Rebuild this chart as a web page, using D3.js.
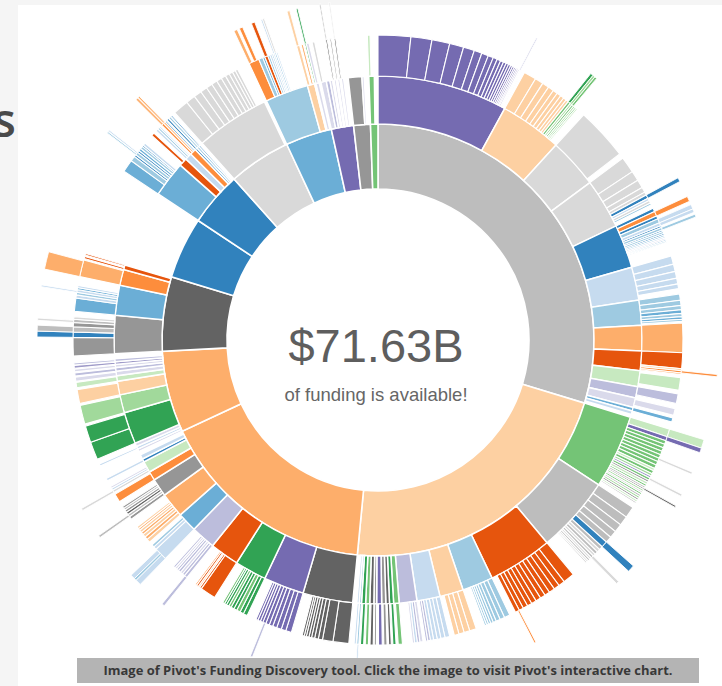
<!DOCTYPE html>
<html><head><meta charset="utf-8">
<script src="https://cdn.jsdelivr.net/npm/d3@7"></script>
<style>html,body{margin:0;padding:0;background:#f5f5f5;}svg{display:block}</style>
</head><body>
<svg id="chart" width="722" height="686"></svg>
<script>
const palette = {B0:"#3182bd",B1:"#6baed6",B2:"#9ecae1",B3:"#c6dbef",O0:"#e6550d",O1:"#fd8d3c",O2:"#fdae6b",O3:"#fdd0a2",
  G0:"#31a354",G1:"#74c476",G2:"#a1d99b",G3:"#c7e9c0",P0:"#756bb1",P1:"#9e9ac8",P2:"#bcbddc",P3:"#dadaeb",
  K0:"#636363",K1:"#969696",K2:"#bdbdbd",K3:"#d9d9d9"};

const totalLabel = "$71.63B";
const subLabel = "of funding is available!";
const caption = "Image of Pivot's Funding Discovery tool. Click the image to visit Pivot's interactive chart.";

// ring 1: [id, share, colour]
const ring1 = [["g1",107,"K2"],["p1",78.5,"O3"],["o1",59.5,"O2"],["o2",22,"O2"],["dg",20,"K0"],["b1",16.6,"B0"],
  ["b2",14.6,"B0"],["lg",16.8,"K3"],["lb",12.5,"B1"],["pu",6,"P0"],["gr",4.5,"K1"],["gn",2,"G1"]];

// rings 2-4: [parentId, [[share, colour], ...]]  (colour null = unfilled)
const ring2 = [
  ["g1",[[28.7,"P0"],[13.7,"O3"],[11,"K3"],[11,"K3"],[9.6,"B0"],[7.3,"B3"],[5.5,"B2"],[5.6,"O2"],[4.3,"O0"],[3.5,"G3"],[2.5,"P2"],[2.1,"P3"],[0.8,"B1"],[0.8,"B3"]]],
  ["p1",[[16.3,"G1"],[16.9,"K2"],[14.2,"O0"],[6.8,"B2"],[5.2,"O3"],[5.1,"B3"],[3.9,"P2"],[1.2,"G1"],[0.9,"G0"],[0.8,"K0"],[0.9,"K1"],[1.1,"P0"],[0.6,"K1"],[0.9,"K0"],[0.9,"G1"],[0.9,"G0"],[0.5,"B2"],[0.5,"B3"]]],
  ["o1",[[11,"K0"],[8.9,"P0"],[7,"G0"],[6.4,"O0"],[5.4,"P2"],[4.3,"B1"],[5.5,"O2"],[4,"K1"],[2,"O1"],[2.5,"G3"],[0.7,"B0"],[1,"B3"]]],
  ["o2",[[0.6,"P3"],[0.6,"B3"],[0.8,"P3"],[7,"G0"],[4,"G2"],[3,"O3"],[1.2,"G3"],[1,"P3"],[0.8,"P2"],[0.7,"P3"],[0.6,"P1"],[0.6,"P2"]]],
  ["dg",[[8.4,"K1"],[6.6,"B1"],[3.5,"O1"],[1,"O0"]]],
  ["b2",[[7.9,"B1"],[1.8,"O0"],[1.5,"B3"],[1.4,"O1"],[0.5,"B0"],[0.5,"B1"],[0.4,"B0"]]],
  ["lg",[[16.3,"K3"]]],
  ["lb",[[9.5,"B2"],[1.6,"O3"],[0.3,"G0"],[0.7,"P3"]]],
  ["pu",[[1.2,"P3"],[0.8,"P2"],[0.6,"P3"],[0.3,"K0"],[0.5,"P3"],[0.3,"P0"],[0.5,"P3"],[0.3,"K0"],[0.5,"P3"]]],
  ["gr",[[3,"K1"],[0.5,"P3"]]],
  ["gn",[[1.2,"G1"]]]
];

const ring3 = [
  ["g1.0",[[6.2,"P0"],[4.0,"P0"],[3.4,"P0"],[2.7,"P0"],[2.1,"P0"],[1.5,"P0"],[1.3,"P0"],[1.0,"P0"],[0.8,"P0"],[0.7,"P0"],[0.6,"P0"],[0.55,"P0"],[0.5,"P0"],[0.45,"P0"],[0.4,"P0"],[0.35,"P0"],[0.3,"P0"],[0.3,"P0"],[0.25,"P0"],[0.25,"P0"],[0.2,"P0"],[0.2,"P1"],[0.2,"P2"],[0.15,"P2"],[0.15,"P3"]]],
  ["g1.1",[[2.4,"O3"],[1.6,"O3"],[1.3,"O3"],[1.1,"O3"],[0.9,"O3"],[0.8,"O3"],[0.7,"O3"],[0.6,"O3"],[0.5,"O3"],[0.5,"G1"],[0.4,"G2"],[0.4,"G1"],[0.35,"G2"],[0.3,"G1"],[0.3,"G3"]]],
  ["g1.2",[[10,"K3"]]],
  ["g1.3",[[3.1,"K3"],[1.9,"K3"],[1.6,"K3"],[1.0,"K3"],[0.6,"K3"],[0.7,"B0"],[0.5,"B3"],[0.5,"K3"],[0.4,"B2"]]],
  ["g1.4",[[0.7,"B0"],[0.9,"O1"],[0.6,"B0"],[0.8,"B2"],[0.6,"B3"],[0.35,"B0"],[0.5,"B2"],[0.3,"B0"],[0.4,"B2"],[0.3,"B0"],[0.3,"B1"],[0.3,"B3"],[0.3,"P3"],[0.25,"B0"],[0.25,"B2"]]],
  ["g1.5",[[1.6,"B3"],[1.4,"B3"],[1.3,"B3"],[1.1,"B3"],[0.9,"B3"]]],
  ["g1.6",[[1.2,"B2"],[1.0,"B2"],[0.8,"B2"],[0.7,"B1"],[0.6,"B2"],[0.5,"B1"],[0.4,"B2"]]],
  ["g1.7",[[5.6,"O2"]]],
  ["g1.8",[[3.0,"O0"],[0.4,"O3"],[0.4,"O1"],[0.3,"O2"]]],
  ["g1.9",[[0.4,null],[2.4,"G3"]]],
  ["g1.10",[[1.8,"P2"]]],
  ["g1.11",[[0.3,null],[1.3,"P3"]]],
  ["g1.12",[[0.8,"B1"]]],
  ["p1.0",[[1.5,"G3"],[0.8,"P0"],[0.7,"G1"],[0.7,"G1"],[0.7,"G1"],[0.7,"G1"],[0.7,"G1"],[0.7,"G1"],[0.7,"G1"],[0.7,"G1"],[0.5,"G3"],[0.6,"G1"],[0.5,"G2"],[0.4,"P1"],[0.5,"G1"],[0.4,"K1"],[0.5,"G3"],[0.4,"G1"],[0.4,"K2"],[0.3,"K0"],[0.4,"G2"],[0.3,"K2"],[0.4,"G1"],[0.4,"K2"],[0.4,"G2"],[0.4,"K1"],[0.4,"G3"],[0.3,"K2"]]],
  ["p1.1",[[2.2,"K2"],[1.8,"K2"],[1.6,"K2"],[1.4,"K2"],[1.2,"K2"],[1.2,"B0"],[0.7,"K2"],[0.6,"K3"],[0.6,"K2"],[0.5,"K3"],[0.5,"K2"],[0.4,"K3"],[0.4,"K2"],[0.35,"K3"],[0.3,"K2"]]],
  ["p1.2",[[2.2,"O0"],[1.2,"O0"],[1.1,"O0"],[1.1,"O0"],[1.0,"O0"],[1.0,"O0"],[1.0,"O0"],[0.95,"O0"],[0.9,"O0"],[0.9,"O0"],[0.85,"O0"],[0.8,"O0"]]],
  ["p1.3",[[1.1,"B2"],[0.9,"B2"],[0.8,"B2"],[0.6,"B2"],[0.5,"B2"],[0.45,"B2"],[0.4,"B2"],[0.35,"B2"]]],
  ["p1.4",[[1.3,"O3"],[1.1,"O3"],[1.0,"O3"],[0.9,"O3"]]],
  ["p1.5",[[0.9,"B3"],[0.8,"B3"],[0.7,"B3"],[0.7,"B3"],[0.6,"B3"],[0.5,"P2"],[0.4,"P2"]]],
  ["p1.6",[[0.6,"P3"],[0.5,"P2"],[0.5,"B3"],[0.4,"P3"]]],
  ["p1.7",[[0.8,"G1"]]],["p1.8",[[0.6,"G0"]]],["p1.9",[[0.5,"K0"]]],["p1.10",[[0.6,"K1"]]],["p1.11",[[0.7,"P0"]]],
  ["p1.12",[[0.4,"K1"]]],["p1.13",[[0.6,"K0"]]],["p1.14",[[0.6,"G1"]]],["p1.15",[[0.6,"G0"]]],["p1.16",[[0.4,"B2"]]],["p1.17",[[0.4,"B3"]]],
  ["o1.0",[[3.0,"K0"],[2.0,"K0"],[0.8,"K0"],[0.7,"K0"],[0.6,"K0"],[0.5,"K0"],[0.5,"K0"],[0.4,"K0"],[0.4,"K0"]]],
  ["o1.1",[[1.1,"P0"],[0.9,"P0"],[0.9,"P0"],[0.8,"P0"],[0.7,"P0"],[0.7,"P0"],[0.6,"P0"],[0.5,"P0"],[0.5,"P0"],[0.4,"P0"]]],
  ["o1.2",[[0.8,"G0"],[0.7,"G0"],[0.7,"G1"],[0.6,"G0"],[0.6,"G0"],[0.5,"G1"],[0.5,"G0"],[0.4,"G0"],[0.4,"G1"]]],
  ["o1.3",[[3.0,"O0"],[0.4,"O0"],[0.3,"O2"],[0.4,"O0"],[0.3,"O1"]]],
  ["o1.4",[[0.6,"P2"],[0.5,"P2"],[0.5,"P3"],[0.5,"P2"],[0.4,"P2"],[0.4,"P3"],[0.4,"P2"]]],
  ["o1.5",[[2.5,"B3"],[0.6,"B3"],[0.5,"B2"]]],
  ["o1.6",[[0.7,"O3"],[0.6,"O2"],[0.6,"O3"],[0.5,"O2"],[0.5,"O3"],[0.4,"O2"],[0.4,"O3"]]],
  ["o1.7",[[0.6,"K1"],[0.5,"K2"],[0.5,"K0"],[0.5,"K1"],[0.4,"K2"],[0.4,"K1"]]],
  ["o1.8",[[1.6,"O1"]]],
  ["o1.9",[[0.5,"K3"],[0.4,"B3"],[0.4,"P3"]]],
  ["o1.10",[[0.5,"B3"]]],
  ["o2.1",[[0.4,"B3"]]],["o2.3",[[3.4,"G0"],[3.2,"G0"]]],["o2.4",[[3.6,"G2"]]],["o2.5",[[2.6,"O3"]]],["o2.6",[[1.0,"G3"]]],
  ["o2.7",[[0.8,"P3"]]],["o2.8",[[0.6,"P2"]]],["o2.9",[[0.5,"P3"]]],["o2.10",[[0.5,"P1"]]],["o2.11",[[0.4,"P2"]]],
  ["dg.0",[[3.5,"K1"],[1.0,"B0"],[1.0,"K2"],[0.8,"K1"],[0.6,"K2"],[0.5,"K3"]]],
  ["dg.1",[[2.5,"B1"],[0.6,"B3"],[0.5,"B2"],[0.5,"B3"],[0.4,"B1"],[0.4,"B3"]]],
  ["dg.2",[[3.2,"O2"]]],
  ["dg.3",[[0.4,"O0"],[0.3,null],[0.3,"O0"]]],
  ["b2.0",[[2.4,"B1"],[1.0,"B2"],[0.4,"B0"],[0.6,"B2"],[0.4,"B0"],[0.5,"B1"],[0.5,"B2"],[0.3,"B0"],[0.5,"B3"]]],
  ["b2.1",[[0.6,null],[0.6,"O0"]]],
  ["b2.2",[[0.5,"B3"],[0.4,"B2"],[0.3,"B3"]]],
  ["b2.3",[[0.5,"O1"],[0.4,"O2"],[0.3,"B0"]]],
  ["b2.4",[[0.4,"B0"]]],["b2.5",[[0.4,"B2"]]],["b2.6",[[0.3,"B0"]]],
  ["lg.0",[[3.0,"K3"],[1.8,"K3"],[1.5,"K3"],[1.3,"K3"],[1.2,"K3"],[1.1,"K3"],[1.0,"K3"],[0.9,"K3"],[0.8,"K3"],[0.7,"K3"],[0.6,"K3"],[0.5,"K3"]]],
  ["lb.0",[[2.0,"O1"],[0.8,"B2"],[0.4,"B1"],[0.6,"O0"],[0.4,"B2"],[0.4,"B3"],[0.3,"B2"],[0.3,"B3"],[0.3,"B1"],[0.3,"B3"]]],
  ["lb.1",[[0.6,"O3"],[0.3,null],[0.4,"O2"]]],
  ["lb.2",[[0.3,"G0"]]],["lb.3",[[0.5,"P3"]]],
  ["pu.0",[[0.5,"K3"]]],["pu.3",[[0.3,"K0"]]],["pu.5",[[0.3,"K1"]]],["pu.7",[[0.3,"K0"]]],
  ["gn.0",[[0.5,"G3"]]]
];

const ring4 = [
  ["g1.0.20",[[0.2,"P2"]]],
  ["g1.1.9",[[0.5,"G0"]]],["g1.1.10",[[0.4,"G2"]]],["g1.1.11",[[0.4,"G1"]]],
  ["g1.3.5",[[0.7,"B0"]]],
  ["g1.4.1",[[0.9,"O1"]]],["g1.4.3",[[0.8,"B3"]]],["g1.4.4",[[0.6,"B3"]]],["g1.4.6",[[0.5,"B2"]]],
  ["g1.8.2",[[0.4,"O1"]]],
  ["p1.0.0",[[1.5,"G3"]]],["p1.0.1",[[0.8,"P0"]]],["p1.0.7",[[0.4,"K3"]]],["p1.0.14",[[0.4,"K3"]]],["p1.0.19",[[0.3,"K0"]]],
  ["p1.1.5",[[1.2,"B0"]]],["p1.1.10",[[0.5,"K3"]]],
  ["p1.2.11",[[0.3,"O1"]]],
  ["p1.16.0",[[0.3,"B3"]]],
  ["o1.1.6",[[0.4,"P2"]]],
  ["o1.4.0",[[0.5,"P2"]]],
  ["o1.5.0",[[1.0,"B3"],[0.4,"B2"],[0.8,"B3"]]],
  ["o1.7.1",[[0.4,"K2"]]],
  ["o1.9.0",[[0.4,"K3"]]],
  ["dg.0.1",[[1.0,"B0"]]],["dg.0.2",[[1.0,"K2"]]],["dg.0.4",[[0.4,"K3"]]],
  ["dg.1.3",[[0.3,"B3"]]],
  ["dg.2.0",[[3.0,"O2"]]],
  ["b2.0.3",[[0.25,"B2"],[0.1,null],[0.25,"B3"]]],
  ["b2.3.0",[[0.4,"O2"]]],["b2.3.1",[[0.3,"O2"]]],
  ["lb.0.0",[[0.6,"O2"],[0.4,null],[0.6,"O1"]]],["lb.0.3",[[0.6,"O0"]]],["lb.0.7",[[0.3,"B3"]]],["lb.0.8",[[0.3,"K3"]]],
  ["lb.1.0",[[0.5,"O3"]]],
  ["lb.2.0",[[0.3,"G0"]]],
  ["pu.3.0",[[0.2,"K1"]]],["pu.7.0",[[0.2,"K3"]]]
];

// ---- build hierarchy ----
const nodeMap = new Map();
const rootData = {id:"root", value:0, color:null, children:[]};
nodeMap.set("root", rootData);
ring1.forEach(([id, v, c]) => { const n = {id, value:v, color:c, children:[]}; rootData.children.push(n); nodeMap.set(id, n); });
function addRing(rows){
  rows.forEach(([pid, items]) => {
    const p = nodeMap.get(pid);
    if (!p) { console.warn("missing parent", pid); return; }
    items.forEach(([v, c]) => {
      const id = pid + "." + p.children.length;
      const n = {id, value:v, color:c, children:[]};
      p.children.push(n); nodeMap.set(id, n);
    });
  });
}
addRing(ring2); addRing(ring3); addRing(ring4);

const root = d3.hierarchy(rootData)
  .sum(d => d.children.length ? Math.max(0, d.value - d3.sum(d.children, c => c.value)) : d.value);
d3.partition().size([2 * Math.PI, 1])(root);

const radii = [null, [151, 216], [216, 264], [264, 305], [305, 341]];
const strokeW = [0, 1.6, 1.5, 1.1, 0.9];
const arc = d3.arc()
  .startAngle(d => d.x0).endAngle(d => d.x1)
  .innerRadius(d => radii[d.depth][0]).outerRadius(d => radii[d.depth][1]);

const svg = d3.select("#chart");
svg.append("rect").attr("x", 18).attr("y", 5).attr("width", 704).attr("height", 681).attr("fill", "#fff");

svg.append("text").attr("x", 16).attr("y", 137).attr("text-anchor", "end")
  .attr("font-family", "'Open Sans', sans-serif").attr("font-size", 47).attr("font-weight", 600)
  .attr("fill", "#4a4a4a").text("s");

const g = svg.append("g").attr("transform", "translate(378,340)");
g.selectAll("path")
  .data(root.descendants().filter(d => d.depth > 0 && d.data.color))
  .join("path")
  .attr("d", arc)
  .attr("fill", d => palette[d.data.color])
  .attr("stroke", "#fff")
  .attr("stroke-width", d => strokeW[d.depth]);

g.append("text").attr("x", -2).attr("y", 22).attr("text-anchor", "middle")
  .attr("font-family", "'Liberation Sans', Arial, sans-serif").attr("font-size", 47)
  .attr("fill", "#5e5e5e").text(totalLabel);
g.append("text").attr("x", -2).attr("y", 61).attr("text-anchor", "middle")
  .attr("font-family", "'Liberation Sans', Arial, sans-serif").attr("font-size", 18.5)
  .attr("fill", "#666").text(subLabel);

svg.append("rect").attr("x", 77).attr("y", 658).attr("width", 622).attr("height", 25).attr("fill", "#b4b4b4");
svg.append("text").attr("x", 388).attr("y", 675).attr("text-anchor", "middle")
  .attr("font-family", "'Open Sans', sans-serif").attr("font-weight", 700).attr("font-size", 12.5)
  .attr("textLength", 569).attr("lengthAdjust", "spacingAndGlyphs")
  .attr("fill", "#383838").text(caption);
</script>
</body></html>
